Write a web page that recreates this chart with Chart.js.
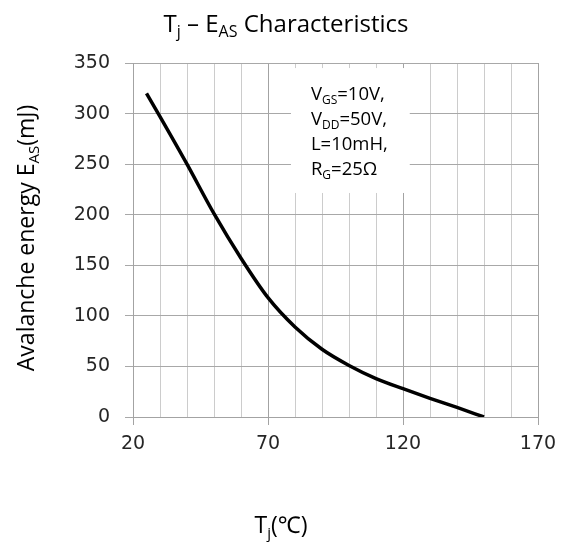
<!DOCTYPE html>
<html>
<head>
<meta charset="utf-8">
<script src="https://cdn.jsdelivr.net/npm/chart.js@4/dist/chart.umd.min.js"></script>
<style>
  html, body { margin: 0; padding: 0; background: #fff; }
  #wrap { width: 572px; height: 547px; position: relative; }
</style>
</head>
<body>
<div id="wrap"><canvas id="easChart" width="572" height="547"></canvas></div>
<script>
// junction temperature (°C) vs avalanche energy (mJ)
const tempC = [25, 30, 40, 50, 60, 70, 80, 90, 100, 110, 120, 130, 140, 150];
const easMJ = [320, 297, 250, 201, 157, 118, 89, 67, 51, 38, 28, 18.5, 9.5, 0];

const yTicks = [0, 50, 100, 150, 200, 250, 300, 350];
const xMajor = [20, 70, 120, 170];

// test conditions box, each line is [text, subscript] pairs
const condLines = [
  [['V', false], ['GS', true], ['=10V,', false]],
  [['V', false], ['DD', true], ['=50V,', false]],
  [['L=10mH,', false]],
  [['R', false], ['G', true], ['=25Ω', false]]
];

const FONT = '"Open Sans", "Noto Sans", sans-serif';

// draws text with subscript pieces, align: 'left' | 'center'
function richText(ctx, parts, x, y, size, align) {
  const subSize = Math.round(size * 0.66);
  let w = 0;
  parts.forEach(p => {
    ctx.font = (p[1] ? subSize : size) + 'px ' + FONT;
    w += ctx.measureText(p[0]).width;
  });
  let cx = align === 'center' ? x - w / 2 : x;
  ctx.textAlign = 'left';
  ctx.textBaseline = 'alphabetic';
  parts.forEach(p => {
    ctx.font = (p[1] ? subSize : size) + 'px ' + FONT;
    ctx.fillText(p[0], cx, p[1] ? y + size * 0.22 : y);
    cx += ctx.measureText(p[0]).width;
  });
}

const textPlugin = {
  id: 'easText',
  beforeDatasetsDraw(chart) {
    const ctx = chart.ctx;
    const xs = chart.scales.x, ys = chart.scales.y;
    // white box for the conditions, covering the grid
    const bx = xs.getPixelForValue(78.5), bx2 = xs.getPixelForValue(122.5);
    const by = ys.getPixelForValue(345), by2 = ys.getPixelForValue(221.5);
    ctx.save();
    ctx.fillStyle = '#ffffff';
    ctx.fillRect(bx, by, bx2 - bx, by2 - by);
    ctx.fillStyle = '#000000';
    condLines.forEach((line, i) => {
      richText(ctx, line, bx + 20, by + 32 + i * 25, 18.5, 'left');
    });
    ctx.restore();
  },
  afterDraw(chart) {
    const ctx = chart.ctx;
    ctx.save();
    ctx.fillStyle = '#000000';
    // chart title
    richText(ctx, [['T', false], ['j', true], [' – E', false], ['AS', true], [' Characteristics', false]],
      286, 32, 24, 'center');
    // x axis title
    richText(ctx, [['T', false], ['j', true], ['(℃)', false]], 281, 533, 23, 'center');
    // y axis title, rotated
    ctx.translate(34, 238);
    ctx.rotate(-Math.PI / 2);
    richText(ctx, [['Avalanche energy E', false], ['AS', true], ['(mJ)', false]], 0, 0, 23, 'center');
    ctx.restore();
  }
};

const tickFont = { family: '"DejaVu Sans", Verdana, sans-serif', size: 19 };

new Chart(document.getElementById('easChart'), {
  type: 'scatter',
  data: {
    datasets: [{
      data: tempC.map((t, i) => ({ x: t, y: easMJ[i] })),
      showLine: true,
      borderColor: '#000000',
      borderWidth: 3.5,
      pointRadius: 0,
      cubicInterpolationMode: 'monotone'
    }]
  },
  options: {
    responsive: false,
    animation: false,
    layout: { padding: { left: 0, right: 34, top: 63, bottom: 0 } },
    plugins: { legend: { display: false }, tooltip: { enabled: false } },
    scales: {
      x: {
        type: 'linear',
        min: 20,
        max: 170,
        afterFit: s => { s.height = 130; },
        afterBuildTicks: s => { s.ticks = []; for (let v = 20; v <= 170; v += 10) s.ticks.push({ value: v }); },
        ticks: {
          autoSkip: false,
          maxRotation: 0,
          padding: 8,
          color: '#262626',
          font: tickFont,
          callback: v => xMajor.includes(v) ? String(v) : ''
        },
        grid: {
          color: c => xMajor.includes(c.tick && c.tick.value) ? '#a3a3a3' : '#cccccc',
          tickColor: c => xMajor.includes(c.tick && c.tick.value) ? '#a3a3a3' : 'rgba(0,0,0,0)',
          tickLength: 8
        },
        border: { color: '#a3a3a3' }
      },
      y: {
        min: 0,
        max: 350,
        afterFit: s => { s.width = 133; },
        afterBuildTicks: s => { s.ticks = yTicks.map(v => ({ value: v })); },
        ticks: { padding: 15, color: '#262626', font: tickFont },
        grid: { color: '#a8a8a8', tickColor: '#a8a8a8', tickLength: 8 },
        border: { color: '#a3a3a3' }
      }
    }
  },
  plugins: [textPlugin]
});
</script>
</body>
</html>
